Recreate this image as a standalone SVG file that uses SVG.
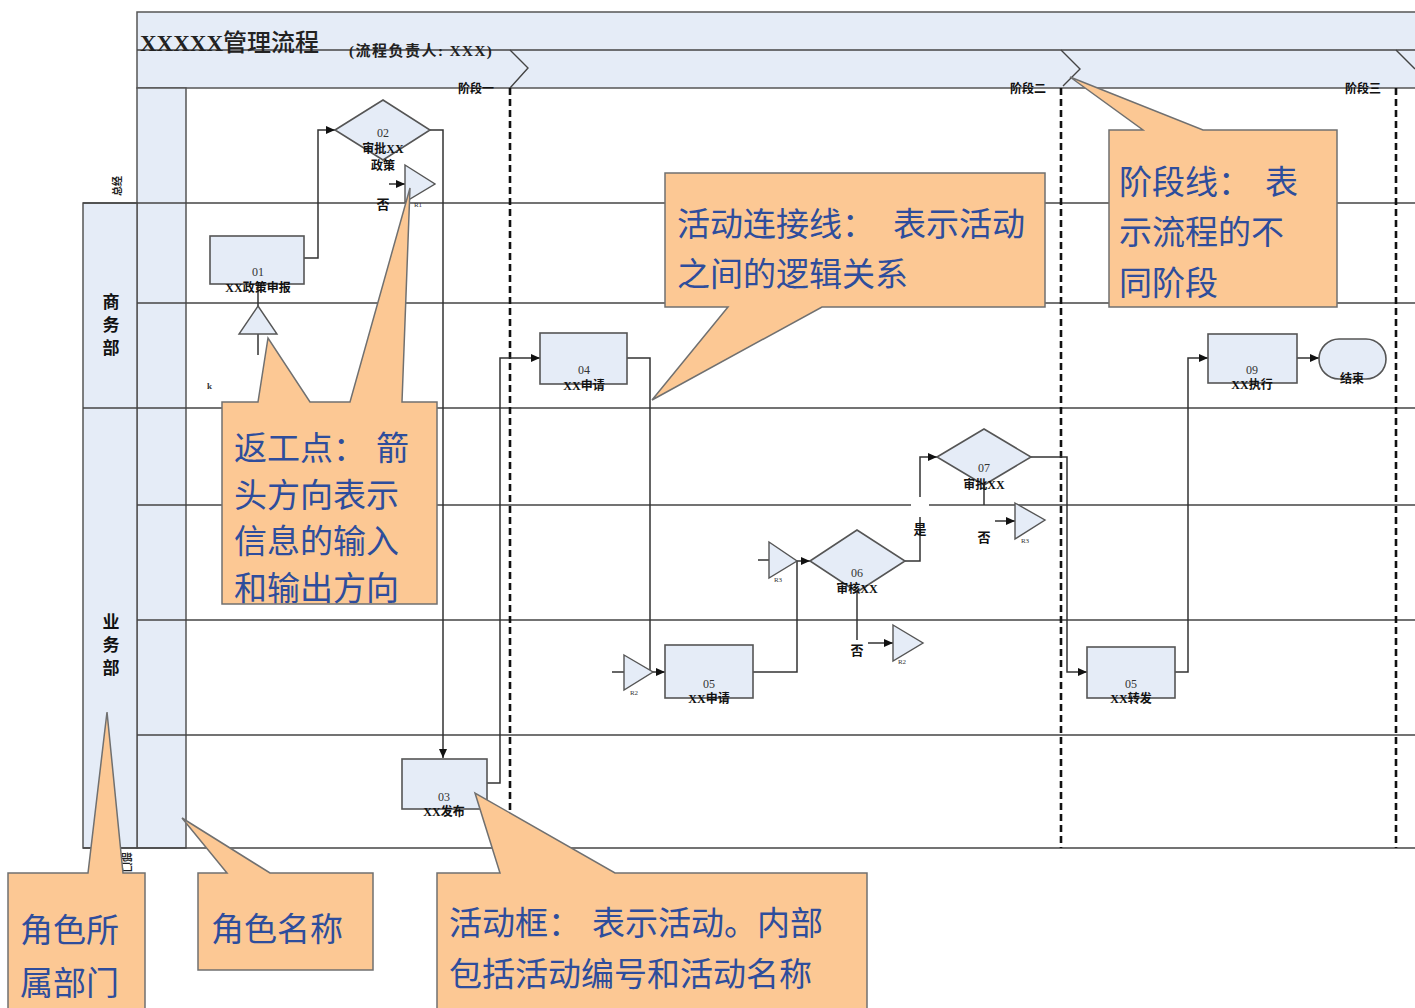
<svg xmlns="http://www.w3.org/2000/svg" width="1415" height="1008" viewBox="0 0 1415 1008">
<defs>
<style>
.bg{fill:#E5ECF7;stroke:#555;stroke-width:1.5}
.ln{stroke:#444;stroke-width:1.4;fill:none}
.stage{stroke:#111;stroke-width:2.6;stroke-dasharray:7,4;fill:none}
.node{fill:#E5ECF7;stroke:#555;stroke-width:1.6}
.tri{fill:#E5ECF7;stroke:#555;stroke-width:1.4}
.con{stroke:#333;stroke-width:1.5;fill:none}
.num{font-family:"Liberation Serif","Noto Sans CJK SC",serif;font-size:12px;fill:#333;text-anchor:middle}
.nm{font-family:"Liberation Serif","Noto Sans CJK SC",serif;font-size:12px;font-weight:bold;fill:#111;text-anchor:middle}
.sm{font-family:"Liberation Serif","Noto Sans CJK SC",serif;font-size:7px;fill:#333;text-anchor:middle}
.lab{font-family:"Noto Sans CJK SC",sans-serif;font-size:13px;font-weight:bold;fill:#111;text-anchor:middle}
.co{fill:#FCC894;stroke:#707070;stroke-width:1.5}
.ct{font-family:"Noto Sans CJK SC",sans-serif;font-size:33px;fill:#2E4D9C}
.dep{font-family:"Noto Sans CJK SC",sans-serif;font-size:17px;font-weight:bold;fill:#111;text-anchor:middle}
.stg{font-family:"Noto Sans CJK SC",sans-serif;font-size:12px;font-weight:bold;fill:#111}
</style>
<marker id="ar" markerWidth="9" markerHeight="8" refX="9" refY="4" orient="auto" markerUnits="userSpaceOnUse">
<path d="M0,0 L9,4 L0,8 z" fill="#111"/>
</marker>
</defs>
<rect width="1415" height="1008" fill="#fff"/>

<g id="frame">
<rect class="bg" x="137" y="12" width="1290" height="76"/>
<line class="ln" x1="137" y1="50" x2="1415" y2="50"/>
<polyline class="ln" points="510,50 528,68 510,88"/>
<polyline class="ln" points="1061,50 1080,69 1063,86"/>
<polyline class="ln" points="1396,50 1415,69"/>
<text x="140" y="51" font-family="Liberation Serif,'Noto Sans CJK SC',serif" font-size="23" font-weight="bold" fill="#222">XXXXX<tspan font-family="'Noto Sans CJK SC',sans-serif" font-size="24" font-weight="500">管理流程</tspan></text>
<text x="349" y="56" font-family="Liberation Serif,'Noto Sans CJK SC',serif" font-size="15" font-weight="bold" letter-spacing="1.5" fill="#222">(流程负责人: XXX)</text>
<rect class="bg" x="137" y="88" width="49" height="760"/>
<rect class="bg" x="83" y="203" width="54" height="645"/>
<line class="ln" x1="83" y1="203" x2="1415" y2="203"/>
<line class="ln" x1="137" y1="303" x2="1415" y2="303"/>
<line class="ln" x1="83" y1="408" x2="1415" y2="408"/>
<line class="ln" x1="137" y1="505" x2="1415" y2="505"/>
<line class="ln" x1="137" y1="620" x2="1415" y2="620"/>
<line class="ln" x1="137" y1="735" x2="1415" y2="735"/>
<line class="ln" x1="83" y1="848" x2="1415" y2="848"/>
<text class="dep" x="111" y="308">商</text>
<text class="dep" x="111" y="331">务</text>
<text class="dep" x="111" y="354">部</text>
<text class="dep" x="111" y="628">业</text>
<text class="dep" x="111" y="651">务</text>
<text class="dep" x="111" y="674">部</text>
<text transform="translate(121,186) rotate(-90)" font-family="'Noto Sans CJK SC',sans-serif" font-size="10" font-weight="bold" fill="#222" text-anchor="middle">总经</text>
<text transform="translate(123,862) rotate(90)" font-family="'Noto Sans CJK SC',sans-serif" font-size="10" font-weight="bold" fill="#222" text-anchor="middle">部门</text>
<line class="stage" x1="510" y1="88" x2="510" y2="848"/>
<line class="stage" x1="1061" y1="88" x2="1061" y2="848"/>
<line class="stage" x1="1396" y1="88" x2="1396" y2="848"/>
<text class="stg" x="458" y="93">阶段一</text>
<text class="stg" x="1010" y="93">阶段二</text>
<text class="stg" x="1345" y="93">阶段三</text>
<text x="207" y="389" font-family="Liberation Serif,serif" font-size="9" font-weight="bold" fill="#333">k</text>
</g>

<g id="connectors">
<polyline class="con" points="304,258 318,258 318,130 335,130" marker-end="url(#ar)"/>
<polyline class="con" points="430,130 443,130 443,758" marker-end="url(#ar)"/>
<line class="con" x1="258" y1="284" x2="258" y2="306"/>
<line class="con" x1="258" y1="334" x2="258" y2="355"/>
<line class="con" x1="389" y1="184" x2="405" y2="184" marker-end="url(#ar)"/>
<polyline class="con" points="487,783 500,783 500,358 540,358" marker-end="url(#ar)"/>
<polyline class="con" points="627,358 650,358 650,672 665,672" marker-end="url(#ar)"/>
<line class="con" x1="612" y1="672" x2="624" y2="672"/>
<polyline class="con" points="753,672 797,672 797,561 810,561" marker-end="url(#ar)"/>
<line class="con" x1="758" y1="560" x2="769" y2="560"/>
<polyline class="con" points="905,561 920,561 920,457 937,457" marker-end="url(#ar)"/>
<rect x="911" y="497" width="18" height="20" fill="#fff"/>
<line class="con" x1="857" y1="592" x2="857" y2="640"/>
<line class="con" x1="868" y1="643" x2="893" y2="643" marker-end="url(#ar)"/>
<line class="con" x1="984" y1="485" x2="984" y2="505"/>
<line class="con" x1="995" y1="521" x2="1015" y2="521" marker-end="url(#ar)"/>
<polyline class="con" points="1031,457 1067,457 1067,672 1087,672" marker-end="url(#ar)"/>
<polyline class="con" points="1175,672 1188,672 1188,358 1208,358" marker-end="url(#ar)"/>
<line class="con" x1="1297" y1="358" x2="1319" y2="358" marker-end="url(#ar)"/>
<text class="lab" x="920" y="534">是</text>
</g>

<g id="n01"><rect class="node" x="210" y="236" width="94" height="48"/><text class="num" x="258" y="276">01</text><text class="nm" x="258" y="292">XX政策申报</text></g>
<g id="n02"><polygon class="node" points="335,130 383,100 430,130 383,160"/><text class="num" x="383" y="137">02</text><text class="nm" x="383" y="153">审批XX</text><text class="nm" x="383" y="170">政策</text></g>
<g id="r1"><polygon class="tri" points="405,165 435,184 405,202"/><text class="lab" x="383" y="209">否</text><text class="sm" x="418" y="207">R1</text></g>
<g id="rin"><polygon class="tri" points="258,306 277,334 239,334"/></g>
<g id="n03"><rect class="node" x="402" y="759" width="85" height="50"/><text class="num" x="444" y="801">03</text><text class="nm" x="444" y="816">XX发布</text></g>
<g id="n04"><rect class="node" x="540" y="333" width="87" height="51"/><text class="num" x="584" y="374">04</text><text class="nm" x="584" y="390">XX申请</text></g>
<g id="r2a"><polygon class="tri" points="624,655 653,672 624,690"/><text class="sm" x="634" y="695">R2</text></g>
<g id="n05"><rect class="node" x="665" y="645" width="88" height="53"/><text class="num" x="709" y="688">05</text><text class="nm" x="709" y="703">XX申请</text></g>
<g id="r3a"><polygon class="tri" points="769,542 797,561 769,578"/><text class="sm" x="778" y="582">R3</text></g>
<g id="n06"><polygon class="node" points="810,561 857,530 905,561 857,592"/><text class="num" x="857" y="577">06</text><text class="nm" x="857" y="593">审核XX</text></g>
<g id="r2b"><text class="lab" x="857" y="655">否</text><polygon class="tri" points="893,625 923,643 893,661"/><text class="sm" x="902" y="664">R2</text></g>
<g id="n07"><polygon class="node" points="937,457 984,429 1031,457 984,485"/><text class="num" x="984" y="472">07</text><text class="nm" x="984" y="489">审批XX</text></g>
<g id="r3b"><text class="lab" x="984" y="542">否</text><polygon class="tri" points="1015,503 1045,520 1015,539"/><text class="sm" x="1025" y="543">R3</text></g>
<g id="n08"><rect class="node" x="1087" y="647" width="88" height="51"/><text class="num" x="1131" y="688">05</text><text class="nm" x="1131" y="703">XX转发</text></g>
<g id="n09"><rect class="node" x="1208" y="334" width="89" height="49"/><text class="num" x="1252" y="374">09</text><text class="nm" x="1252" y="389">XX执行</text></g>
<g id="end"><rect class="node" x="1319" y="339" width="67" height="40" rx="20"/><text class="nm" x="1352" y="383">结束</text></g>

<g id="callout-rework">
<polygon class="co" points="222,402 258,402 268,338 310,402 350,402 410,188 402,402 437,402 437,604 222,604"/>
<text class="ct" x="234" y="460">返工点：<tspan x="376">箭</tspan></text>
<text class="ct" x="234" y="507">头方向表示</text>
<text class="ct" x="234" y="553">信息的输入</text>
<text class="ct" x="234" y="600">和输出方向</text>
</g>
<g id="callout-connector">
<polygon class="co" points="665,173 1045,173 1045,307 822,307 652,400 728,307 665,307"/>
<text class="ct" x="677" y="236">活动连接线：<tspan x="893">表示活动</tspan></text>
<text class="ct" x="677" y="286">之间的逻辑关系</text>
</g>
<g id="callout-stage">
<polygon class="co" points="1109,130 1143,130 1070,77 1203,130 1337,130 1337,307 1109,307"/>
<text class="ct" x="1119" y="194">阶段线：<tspan x="1265">表</tspan></text>
<text class="ct" x="1119" y="244">示流程的不</text>
<text class="ct" x="1119" y="295">同阶段</text>
</g>
<g id="callout-dept">
<polygon class="co" points="8,873 88,873 107,712 123,873 145,873 145,1012 8,1012"/>
<text class="ct" x="20" y="942">角色所</text>
<text class="ct" x="20" y="995">属部门</text>
</g>
<g id="callout-role">
<polygon class="co" points="198,873 227,873 182,818 270,873 373,873 373,970 198,970"/>
<text class="ct" x="211" y="941">角色名称</text>
</g>
<g id="callout-activity">
<polygon class="co" points="437,873 500,873 475,793 615,873 867,873 867,1012 437,1012"/>
<text class="ct" x="449" y="935">活动框：<tspan x="592">表示活动。内部</tspan></text>
<text class="ct" x="449" y="986">包括活动编号和活动名称</text>
</g>
</svg>
